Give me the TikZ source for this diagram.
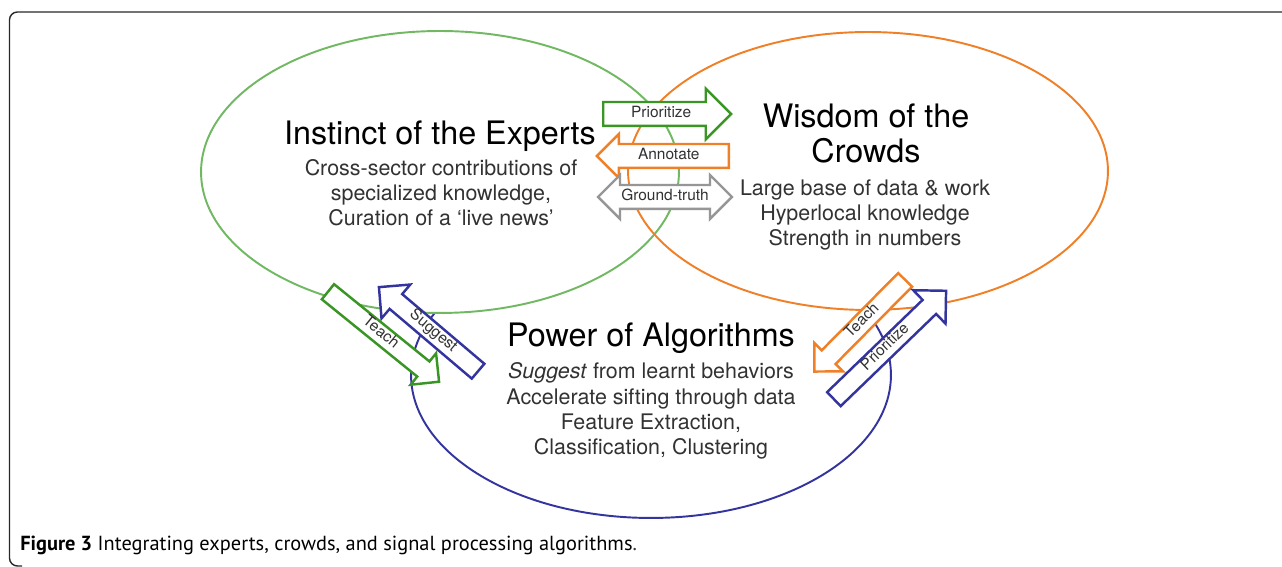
\documentclass[tikz,border=0pt]{standalone}
\usepackage{fontspec}
\setmainfont{TeX Gyre Heros}
\newfontfamily\figcapfont{PT Sans}
\usetikzlibrary{shapes.geometric,shapes.arrows}

\definecolor{expgreen}{RGB}{112,184,98}
\definecolor{arrgreen}{RGB}{58,150,36}
\definecolor{crowdorange}{RGB}{240,128,40}
\definecolor{algoblue}{RGB}{52,52,158}
\definecolor{truthgray}{RGB}{150,150,150}
\definecolor{inkgray}{RGB}{50,50,50}
\definecolor{framegray}{RGB}{40,40,40}

\begin{document}
\begin{tikzpicture}[x=0.02cm,y=0.02cm,
    bubble/.style={ellipse, line width=1.1pt, inner sep=0pt},
    heading/.style={font=\fontsize{18.4}{20.4}\selectfont, text=black, align=center, inner sep=0pt},
    blurb/.style={font=\fontsize{12.2}{14.5}\selectfont, text=inkgray, align=center, inner sep=0pt},
    blockarrow/.style={single arrow, draw=#1, fill=white, line width=1.4pt,
        single arrow tip angle=90, single arrow head indent=0pt, minimum width=0pt,
        inner xsep=0pt, inner ysep=0pt, anchor=tail, text=inkgray,
        font=\fontsize{8.8}{10}\selectfont},
    wide/.style={text height=0.28cm, text depth=0.15cm},
    slim/.style={text height=0.22cm, text depth=0.12cm}]
    \useasboundingbox (0,0) rectangle (1282,567);
    % frame
    \draw[framegray, line width=0.8pt, rounded corners=4.5pt] (1282,555) -- (9.5,555) -- (9.5,1) -- (22,1);

    % the three rings; the blue one sits behind the two upper ones
    \node[bubble, draw=algoblue, minimum width=9.6cm, minimum height=5.72cm] (algos) at (651,192) {};
    \fill[white] (440,395) ellipse (4.78cm and 2.82cm);
    \fill[white] (868,396) ellipse (4.8cm and 2.78cm);
    \node[bubble, draw=expgreen, minimum width=9.56cm, minimum height=5.64cm] (experts) at (440,395) {};
    \node[bubble, draw=crowdorange, minimum width=9.6cm, minimum height=5.56cm] (crowds) at (868,396) {};

    % texts (base = last line)
    \node[heading, anchor=base] (exphead) at (440,422) {Instinct of the Experts};
    \node[blurb, anchor=base] (expbody) at (441,341) {Cross-sector contributions of\\specialized knowledge,\\Curation of a ‘live news’};
    \node[heading, anchor=base] (crowdhead) at (866,404) {Wisdom of the\\Crowds};
    \node[blurb, anchor=base] (crowdbody) at (865,321) {Large base of data \& work\\Hyperlocal knowledge\\Strength in numbers};
    \node[heading, anchor=base] (algohead) at (651,220) {Power of Algorithms};
    \node[blurb, anchor=base] (algobody) at (651,112) {\textit{Suggest} from learnt behaviors\\Accelerate sifting through data\\Feature Extraction,\\Classification, Clustering};

    % arrows between experts and crowds
    \node[blockarrow=arrgreen, wide, single arrow head extend=0.27cm, minimum height=2.56cm] (prio) at (602,453) {Prioritize};
    \node[blockarrow=crowdorange, wide, shape border rotate=180, single arrow head extend=0.2cm, minimum height=2.64cm] (annot) at (730,411) {Annotate};
    \node[double arrow, draw=truthgray, fill=white, line width=1.4pt, double arrow tip angle=90, double arrow head indent=0pt,
        double arrow head extend=0.2cm, minimum width=0pt, minimum height=2.68cm, inner xsep=0pt, inner ysep=0pt,
        wide, text=inkgray, font=\fontsize{8.8}{10}\selectfont] (truth) at (665,370) {Ground-truth};

    % arrows between experts and algorithms
    \node[blockarrow=algoblue, slim, rotate=-40.3, shape border rotate=180, single arrow head extend=0.25cm, minimum height=2.6cm] (suggest) at (479,195) {Suggest};
    \node[blockarrow=arrgreen, slim, rotate=-39, single arrow head extend=0.21cm, minimum height=2.86cm] (teachexp) at (327,276) {Teach};

    % arrows between crowds and algorithms
    \node[blockarrow=crowdorange, slim, rotate=45.3, shape border rotate=180, single arrow head extend=0.21cm, minimum height=2.58cm] (teachcrowd) at (906,288) {Teach};
    \node[blockarrow=algoblue, slim, rotate=44, single arrow head extend=0.27cm, minimum height=3.12cm] (prioalgo) at (833,167) {Prioritize};

    % caption
    \node[anchor=base west, inner sep=0pt, font=\figcapfont\fontsize{11.6}{13}\selectfont, text=black] (caption) at (20,16)
        {\textbf{Figure 3} Integrating experts, crowds, and signal processing algorithms\textcolor{inkgray}{.}};
\end{tikzpicture}
\end{document}
